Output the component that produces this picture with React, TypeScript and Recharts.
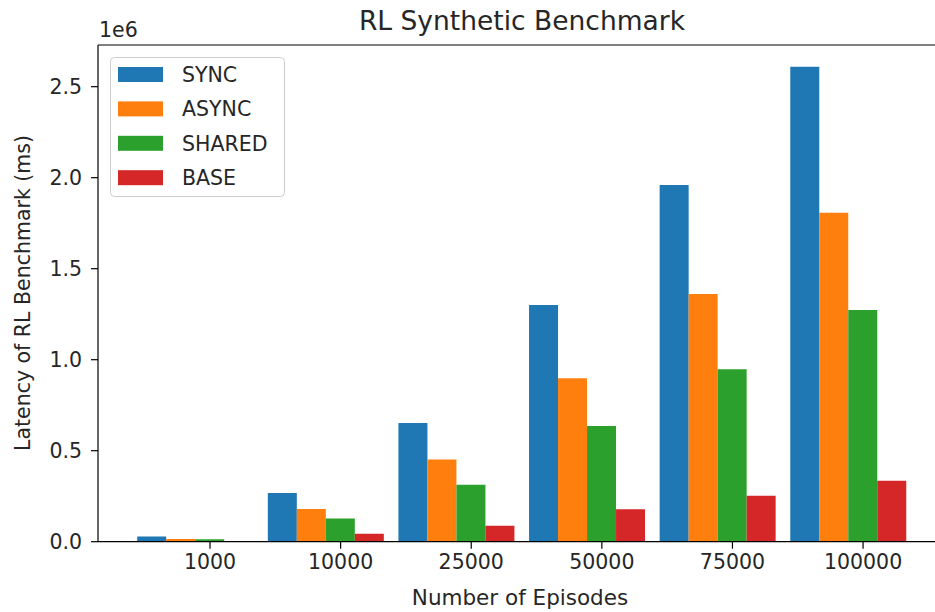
import React from 'react';
import { BarChart, Bar, XAxis, YAxis, ReferenceLine } from 'recharts';

const categories = ['1000', '10000', '25000', '50000', '75000', '100000'];
const syncValues = [29000, 268000, 652000, 1300000, 1960000, 2610000];
const asyncValues = [15000, 180000, 451000, 898000, 1361000, 1808000];
const sharedValues = [14000, 128000, 313000, 636000, 947000, 1273000];
const baseValues = [2500, 44000, 88000, 178000, 253000, 335000];
const yTicks = [0, 500000, 1000000, 1500000, 2000000, 2500000];
const xTicks = [0, 1, 2, 3, 4, 5];
const Y_MAX = 2729000;

const seriesNames = ['SYNC', 'ASYNC', 'SHARED', 'BASE'];
const seriesKeys = ['sync', 'async', 'shared', 'base'];
const colors = ['#1f77b4', '#ff7f0e', '#2ca02c', '#d62728'];

const SHIFT = 0.111;
const data = categories.map((c, i) => ({
  pos: i - SHIFT,
  sync: syncValues[i],
  async: asyncValues[i],
  shared: sharedValues[i],
  base: baseValues[i],
}));

const FONT = 'DejaVu Sans, sans-serif';
const TXT = '#262626';

export default function App() {
  return (
    <div style={{ position: 'absolute', left: 0, top: 0, width: 935, height: 612, overflow: 'hidden', background: '#fff', fontFamily: FONT }}>
      <BarChart
        width={960}
        height={612}
        data={data}
        margin={{ top: 45, right: 17, bottom: 0, left: 0 }}
        barGap={0}
        barSize={29}
      >
        <XAxis
          dataKey="pos"
          type="number"
          domain={[-0.8576, 5.612]}
          allowDataOverflow
          ticks={xTicks}
          interval={0}
          tickFormatter={(v: number) => categories[Math.round(v)] ?? ''}
          height={70.3}
          tickSize={7}
          tickMargin={6}
          stroke="#000"
          tick={{ fill: TXT, fontSize: 20.5, fontFamily: FONT }}
          axisLine={{ stroke: '#000', strokeWidth: 1.2 }}
          tickLine={{ stroke: '#000', strokeWidth: 1.2 }}
        />
        <YAxis
          type="number"
          domain={[0, Y_MAX]}
          allowDataOverflow
          ticks={yTicks}
          interval={0}
          width={98}
          tickSize={7}
          tickMargin={9}
          tickFormatter={(v: number) => (v / 1e6).toFixed(1)}
          tick={{ fill: TXT, fontSize: 20.5, fontFamily: FONT }}
          axisLine={{ stroke: '#000', strokeWidth: 1.2 }}
          tickLine={{ stroke: '#000', strokeWidth: 1.2 }}
        />
        {seriesKeys.map((k, i) => (
          <Bar key={k} dataKey={k} name={seriesNames[i]} fill={colors[i]} isAnimationActive={false} />
        ))}
        <ReferenceLine y={Y_MAX} stroke="#000" strokeWidth={1.2} ifOverflow="visible" />
      </BarChart>

      <svg width={935} height={612} style={{ position: 'absolute', left: 0, top: 0, pointerEvents: 'none' }}>
        <text x={522} y={30} textAnchor="middle" fontSize={26.5} fill={TXT} fontFamily={FONT}>RL Synthetic Benchmark</text>
        <text x={99} y={36.5} textAnchor="start" fontSize={20.5} fill={TXT} fontFamily={FONT}>1e6</text>
        <text x={520} y={605} textAnchor="middle" fontSize={21.5} fill={TXT} fontFamily={FONT}>Number of Episodes</text>
        <text x={0} y={0} transform="translate(30,293) rotate(-90)" textAnchor="middle" fontSize={20.5} fill={TXT} fontFamily={FONT}>Latency of RL Benchmark (ms)</text>
        <rect x={110.5} y={57.5} width={174} height={139} rx={4} ry={4} fill="rgba(255,255,255,0.8)" stroke="#cccccc" strokeWidth={1} />
        {seriesNames.map((n, i) => (
          <g key={n}>
            <rect x={118} y={67 + i * 34.4} width={45} height={15} fill={colors[i]} />
            <text x={182} y={82 + i * 34.4} fontSize={20.5} fill={TXT} fontFamily={FONT}>{n}</text>
          </g>
        ))}
      </svg>
    </div>
  );
}
